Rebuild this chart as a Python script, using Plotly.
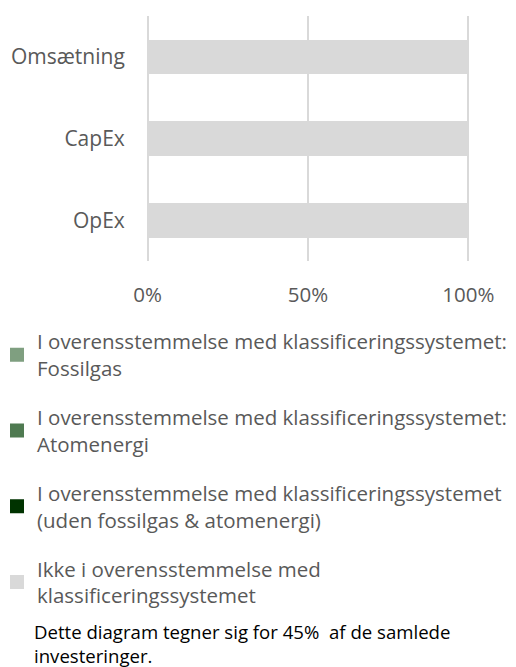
import plotly.graph_objects as go

categories = ["Omsætning", "CapEx", "OpEx"]
series_names = [
    "I overensstemmelse med klassificeringssystemet:<br>Fossilgas",
    "I overensstemmelse med klassificeringssystemet:<br>Atomenergi",
    "I overensstemmelse med klassificeringssystemet<br>(uden fossilgas & atomenergi)",
    "Ikke i overensstemmelse med<br>klassificeringssystemet",
]
series_values = [
    [0, 0, 0],
    [0, 0, 0],
    [0, 0, 0],
    [100, 100, 100],
]
series_colors = ["#7F9F80", "#4F7A51", "#003300", "#D9D9D9"]
x_ticks = [0, 50, 100]
x_ticklabels = ["0%", "50%", "100%"]
footnote = "Dette diagram tegner sig for 45%&nbsp; af de samlede<br>investeringer."

FONT = "Open Sans, sans-serif"

# page body has an 8px margin, so the figure is 8px smaller than the window
W, H = 508, 659
L, R, T, B = 137, 45, 8, 406
PW, PH = W - L - R, H - T - B

fig = go.Figure()
for i, (name, vals, col) in enumerate(zip(series_names, series_values, series_colors)):
    fig.add_trace(go.Bar(
        y=categories, x=vals, name=name, orientation="h",
        marker=dict(color=col, line=dict(width=2, color=col)),
        legendgroup=f"g{i}",
    ))

fig.update_layout(
    width=W, height=H,
    barmode="stack", bargap=0.6,
    plot_bgcolor="white", paper_bgcolor="white",
    margin=dict(l=L, r=R, t=T, b=B, autoexpand=False),
    font=dict(family=FONT, color="#595959", size=20),
    showlegend=True,
    legend=dict(
        orientation="v", traceorder="grouped",
        xref="paper", yref="container",
        x=(-11 - L) / PW, y=1 - 313.5 / H, xanchor="left", yanchor="top",
        font=dict(family=FONT, size=20.5, color="#595959"),
        tracegroupgap=19.5, itemwidth=30,
        bgcolor="rgba(0,0,0,0)",
    ),
    annotations=[dict(
        text=footnote, xref="paper", yref="paper",
        x=-(L - 24) / PW, y=-(609 - (T + PH)) / PH,
        xanchor="left", yanchor="top", align="left", showarrow=False,
        font=dict(family=FONT, size=18.6, color="#000000"),
    )],
)
fig.update_xaxes(
    range=[-0.8, 100.8], tickvals=x_ticks, ticktext=x_ticklabels,
    showgrid=True, gridcolor="#D9D9D9", gridwidth=1.5,
    zeroline=False, showline=False,
    ticks="outside", ticklen=15, tickcolor="rgba(0,0,0,0)",
    tickfont=dict(family=FONT, size=20.5, color="#595959"),
    fixedrange=True,
)
fig.update_yaxes(
    categoryorder="array", categoryarray=categories[::-1],
    showgrid=False, zeroline=False, showline=False,
    ticks="outside", ticklen=15, tickcolor="rgba(0,0,0,0)",
    tickfont=dict(family=FONT, size=21, color="#595959"),
    fixedrange=True,
)

fig.write_html("out.html")
